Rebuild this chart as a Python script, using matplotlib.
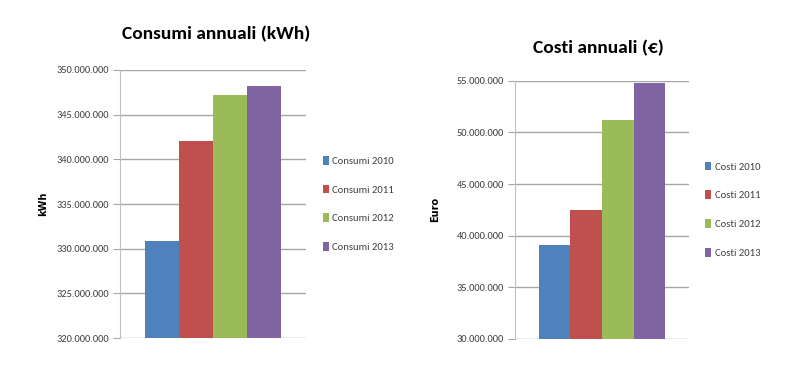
import matplotlib
matplotlib.use('Agg')
from matplotlib import pyplot as plt
from matplotlib.ticker import FuncFormatter

plt.rcParams['font.family'] = ['Carlito', 'Liberation Sans', 'DejaVu Sans']

anni = ["2010", "2011", "2012", "2013"]
consumi = [330_900_000, 342_000_000, 347_150_000, 348_200_000]
costi = [39_100_000, 42_500_000, 51_200_000, 54_800_000]
colori = ["#4F81BD", "#C0504D", "#9BBB59", "#8064A2"]


def punti(v, pos):
    return f"{int(v):,}".replace(",", ".")


def disegna(ax, values, prefisso, ylim, ystep, ylabel, label_x):
    x = range(len(values))
    bars = ax.bar(x, values, width=1.0, color=colori, zorder=3)
    ax.set_xlim(-1.25, 4.25)
    ax.set_ylim(*ylim)
    ax.set_yticks(range(ylim[0], ylim[1] + 1, ystep))
    ax.yaxis.set_major_formatter(FuncFormatter(punti))
    ax.set_xticks([])
    ax.grid(axis='y', color='#A6A6A6', linewidth=1, zorder=0)
    for s in ['top', 'right', 'bottom']:
        ax.spines[s].set_visible(False)
    ax.spines['left'].set_color('#BFBFBF')
    ax.tick_params(axis='y', length=5, color='#A6A6A6', labelsize=7.5,
                   labelcolor='#404040', pad=3)
    ax.set_ylabel(ylabel, fontsize=7, fontweight='bold', family='DejaVu Sans')
    ax.yaxis.set_label_coords(label_x, 0.5)
    ax.legend(bars, [f"{prefisso} {a}" for a in anni], loc='center left',
              bbox_to_anchor=(1.05, 0.5), frameon=False, fontsize=7.7,
              handlelength=0.6, handleheight=0.9, handletextpad=0.3,
              labelspacing=1.75, labelcolor='#404040', borderaxespad=0.3)


fig = plt.figure(figsize=(8, 3.8), dpi=100)
ax1 = fig.add_axes([0.15, 0.1105, 0.2325, 0.7053])
ax2 = fig.add_axes([0.644, 0.108, 0.217, 0.6796])

disegna(ax1, consumi, "Consumi", (320_000_000, 350_000_000), 5_000_000, "kWh", -0.385)
disegna(ax2, costi, "Costi", (30_000_000, 55_000_000), 5_000_000, "Euro", -0.43)

fig.text(0.27, 1 - 34 / 380, "Consumi annuali (kWh)", ha='center', va='center',
         fontsize=14, fontweight='bold')
fig.text(0.7475, 1 - 48 / 380, "Costi annuali (€)", ha='center', va='center',
         fontsize=14, fontweight='bold')

fig.savefig('out.png', dpi=100)
